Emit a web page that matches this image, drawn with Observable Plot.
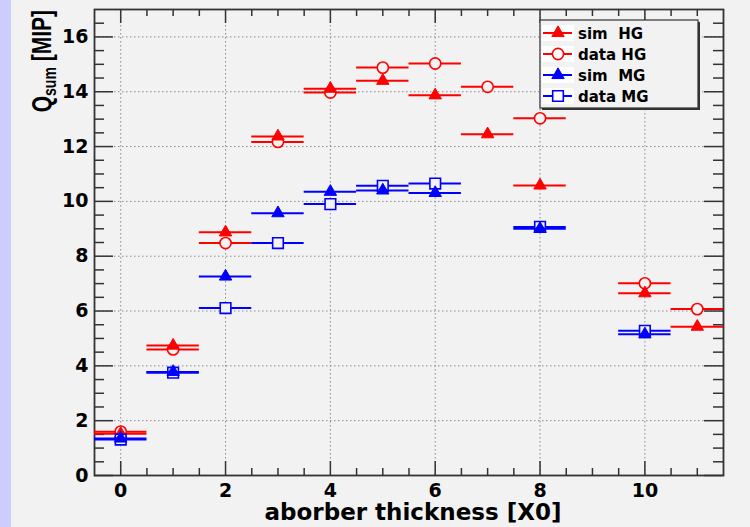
<!DOCTYPE html>
<html><head><meta charset="utf-8">
<script src="https://cdn.jsdelivr.net/npm/d3@7"></script>
<script src="https://cdn.jsdelivr.net/npm/@observablehq/plot@0.6"></script>
<style>
html,body{margin:0;padding:0;}
body{width:750px;height:527px;overflow:hidden;background:linear-gradient(to right,#ccccff 0,#ccccff 11px,#f2f2f2 11px);}
#chart svg{display:block;}
</style></head><body><div id="chart"></div>
<script>
// ---- data ----
const xHG = [0, 1, 2, 3, 4, 5, 6, 7, 8, 10, 11];
const simHG = [1.52, 4.74, 8.87, 12.37, 14.11, 14.40, 13.87, 12.45, 10.58, 6.65, 5.43];
const dataHG = [1.60, 4.60, 8.48, 12.17, 13.97, 14.88, 15.03, 14.18, 13.03, 7.01, 6.07];
const xMG = [0, 1, 2, 3, 4, 5, 6, 8, 10];
const simMG = [1.35, 3.78, 7.26, 9.57, 10.35, 10.40, 10.31, 9.00, 5.15];
const dataMG = [1.31, 3.75, 6.11, 8.48, 9.90, 10.57, 10.65, 9.07, 5.28];
const binHalfWidth = 0.5;
const xTicks = [0, 2, 4, 6, 8, 10];
const yTicks = [0, 2, 4, 6, 8, 10, 12, 14, 16];
const seriesNames = ["sim  HG", "data HG", "sim  MG", "data MG"];
const seriesColors = ["#ff0000", "#ff0000", "#0000ff", "#0000ff"];
const seriesSymbols = ["triangle", "circle", "triangle", "square"];
const xLabel = "aborber thickness [X0]";
const yLabelMain = "Q", yLabelSub = "sum", yLabelUnit = "[MIP]";

// ---- layout ----
const W = 750, H = 527, mL = 94, mR = 27, mT = 9, mB = 52;
const fW = W - mL - mR, fH = H - mT - mB;
const xDomain = [-0.5, 11.5], yDomain = [0, 17];

const seriesX = [xHG, xHG, xMG, xMG];
const seriesY = [simHG, dataHG, simMG, dataMG];
const rowsOf = i => seriesX[i].map((x, j) => ({x, y: seriesY[i][j]}));
const symR = {triangle: 4.6, circle: 5.6, square: 6};
const drawOrder = [1, 0, 3, 2];

const xMinor = d3.range(0, 11.5, 0.5).filter(v => !xTicks.includes(v));
const yMinor = d3.range(0.5, 17, 0.5).filter(v => !yTicks.includes(v));

const tickStyle = {stroke: "#333", strokeWidth: 1.5};
const gridStyle = {stroke: "#8a8a8a", strokeWidth: 1, strokeDasharray: "1.5,2.5"};

const marks = [
  Plot.ruleX(xTicks, {x: d => d, ...gridStyle}),
  Plot.ruleY(yTicks.filter(d => d > 0), {y: d => d, ...gridStyle}),
  // bottom / top ticks
  Plot.ruleX(xTicks, {x: d => d, insetTop: fH - 14, ...tickStyle}),
  Plot.ruleX(xMinor, {x: d => d, insetTop: fH - 7, ...tickStyle}),
  Plot.ruleX(xTicks, {x: d => d, insetBottom: fH - 14, ...tickStyle}),
  Plot.ruleX(xMinor, {x: d => d, insetBottom: fH - 7, ...tickStyle}),
  // left / right ticks
  Plot.ruleY(yTicks, {y: d => d, insetRight: fW - 19, ...tickStyle}),
  Plot.ruleY(yMinor, {y: d => d, insetRight: fW - 10, ...tickStyle}),
  Plot.ruleY(yTicks, {y: d => d, insetLeft: fW - 19, ...tickStyle}),
  Plot.ruleY(yMinor, {y: d => d, insetLeft: fW - 10, ...tickStyle}),
  Plot.frame({stroke: "#333", strokeWidth: 1.8}),
];
for (const i of drawOrder) {
  const rows = rowsOf(i);
  const sym = seriesSymbols[i];
  const filled = sym === "triangle";
  marks.push(Plot.ruleY(rows, {y: "y", x1: d => d.x - binHalfWidth, x2: d => d.x + binHalfWidth,
    stroke: seriesColors[i], strokeWidth: 2}));
  marks.push(Plot.dot(rows, {x: "x", y: "y", symbol: () => sym, r: symR[sym],
    fill: filled ? seriesColors[i] : "#f2f2f2", stroke: seriesColors[i],
    strokeWidth: filled ? 1 : 1.6}));
}
const labelFont = {fontFamily: "DejaVu Sans", fontWeight: "bold", fill: "black"};
marks.push(Plot.text(xTicks, {x: d => d, frameAnchor: "bottom", dy: 15, text: d => String(d),
  fontSize: 19, lineAnchor: "middle", ...labelFont}));
marks.push(Plot.text(yTicks, {y: d => d, frameAnchor: "left", dx: -6, text: d => String(d),
  fontSize: 19, textAnchor: "end", lineAnchor: "middle", ...labelFont}));

const svg = Plot.plot({
  width: W, height: H,
  marginLeft: mL, marginRight: mR, marginTop: mT, marginBottom: mB,
  style: {background: "transparent", overflow: "visible"},
  x: {domain: xDomain, axis: null},
  y: {domain: yDomain, axis: null},
  symbol: {type: "identity"},
  marks
});
document.getElementById("chart").appendChild(svg);

// ---- axis titles ----
const s = d3.select(svg);
s.append("text").attr("x", 413).attr("y", 520).attr("text-anchor", "middle")
  .attr("font-family", "DejaVu Sans").attr("font-weight", "bold").attr("font-size", 23)
  .attr("fill", "black").text(xLabel);

const yt = s.append("text")
  .attr("transform", "translate(51,10) rotate(-90) scale(1,1.3)")
  .attr("text-anchor", "end").attr("font-family", "Liberation Sans")
  .attr("font-weight", "bold").attr("font-size", 21).attr("fill", "black")
  .style("white-space", "pre");
yt.append("tspan").text(yLabelMain);
yt.append("tspan").attr("font-size", 14).attr("dy", 4).text(yLabelSub);
yt.append("tspan").attr("dy", -4).text(" " + yLabelUnit);

// ---- legend ----
const lg = s.append("g").attr("text-anchor", "start");
lg.append("rect").attr("x", 540).attr("y", 20).attr("width", 158).attr("height", 88)
  .attr("fill", "#f2f2f2").attr("stroke", "#333").attr("stroke-width", 1.2);
lg.append("path").attr("d", "M699,22V109H542").attr("fill", "none")
  .attr("stroke", "#333").attr("stroke-width", 2);
const legY = [33, 54, 75, 96];
seriesNames.forEach((name, i) => {
  const y = legY[i];
  const sym = seriesSymbols[i];
  const filled = sym === "triangle";
  lg.append("rect").attr("x", 542).attr("y", y - 8).attr("width", 32).attr("height", 16)
    .attr("fill", "white");
  lg.append("line").attr("x1", 543).attr("x2", 572).attr("y1", y).attr("y2", y)
    .attr("stroke", seriesColors[i]).attr("stroke-width", 2);
  const symType = sym === "triangle" ? d3.symbolTriangle : sym === "circle" ? d3.symbolCircle : d3.symbolSquare;
  lg.append("path").attr("transform", `translate(558,${y})`)
    .attr("d", d3.symbol(symType, Math.PI * symR[sym] * symR[sym])())
    .attr("fill", filled ? seriesColors[i] : "white").attr("stroke", seriesColors[i])
    .attr("stroke-width", filled ? 1 : 1.6);
  lg.append("text").attr("x", 578).attr("y", y + 5.5).attr("text-anchor", "start")
    .attr("font-family", "DejaVu Sans").attr("font-weight", "bold").attr("font-size", 15)
    .attr("fill", "black").style("white-space", "pre").text(name);
});
</script></body></html>
